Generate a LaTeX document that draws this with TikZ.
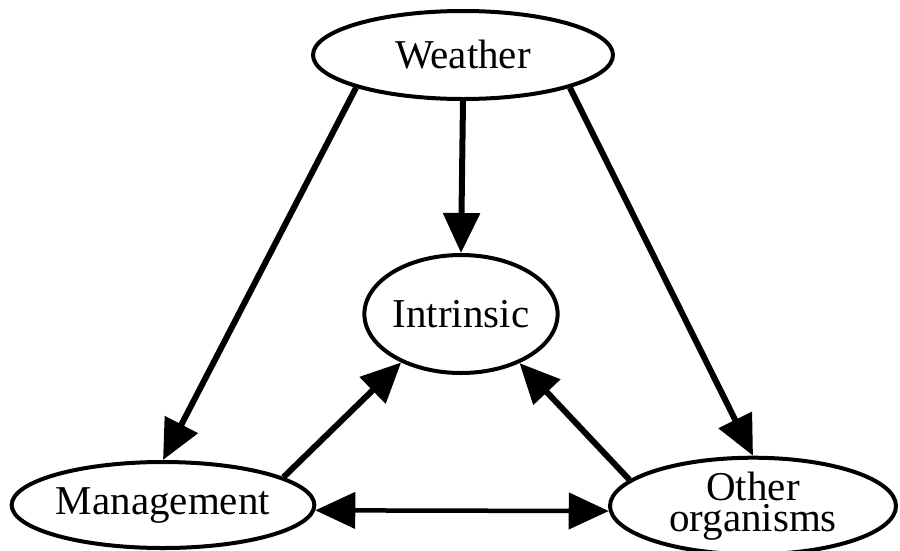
\documentclass[tikz,border=0pt]{standalone}
\usepackage{fontspec}
\setmainfont{Liberation Serif}
\usetikzlibrary{shapes.geometric,arrows.meta}
\begin{document}
\begin{tikzpicture}[x=1pt,y=1pt,
  ell/.style={draw=black,ellipse,line width=4pt,inner sep=0pt,
    font=\fontsize{41}{31}\selectfont,align=center},
  conn/.style={line width=6pt,-{Triangle[length=40pt,width=36pt]}},
  biconn/.style={line width=4.5pt,{Triangle[length=40pt,width=36pt]}-{Triangle[length=40pt,width=36pt]}}]
\useasboundingbox (0,0) rectangle (900,-550);
\node[ell,minimum width=300pt,minimum height=88pt] (W) at (463,-55) {Weather};
\node[ell,minimum width=182pt,minimum height=118pt] (I) at (461,-314) {Intrinsic};
\node[ell,minimum width=296pt,minimum height=86pt] (M) at (163,-505) {Management};
\node[ell,minimum width=286pt,minimum height=86pt] (O) at (753,-506) {Other\\organisms};
\draw[conn] (W.197) -- (M.north);
\draw[conn] (W.south) -- (I.north);
\draw[conn] (W.343) -- (O.north);
\draw[conn] (M.13) -- (I.219.6);
\draw[conn] (O.168.8) -- (I.320.8);
\draw[biconn] (M.-2) -- (O.182);
\end{tikzpicture}
\end{document}
